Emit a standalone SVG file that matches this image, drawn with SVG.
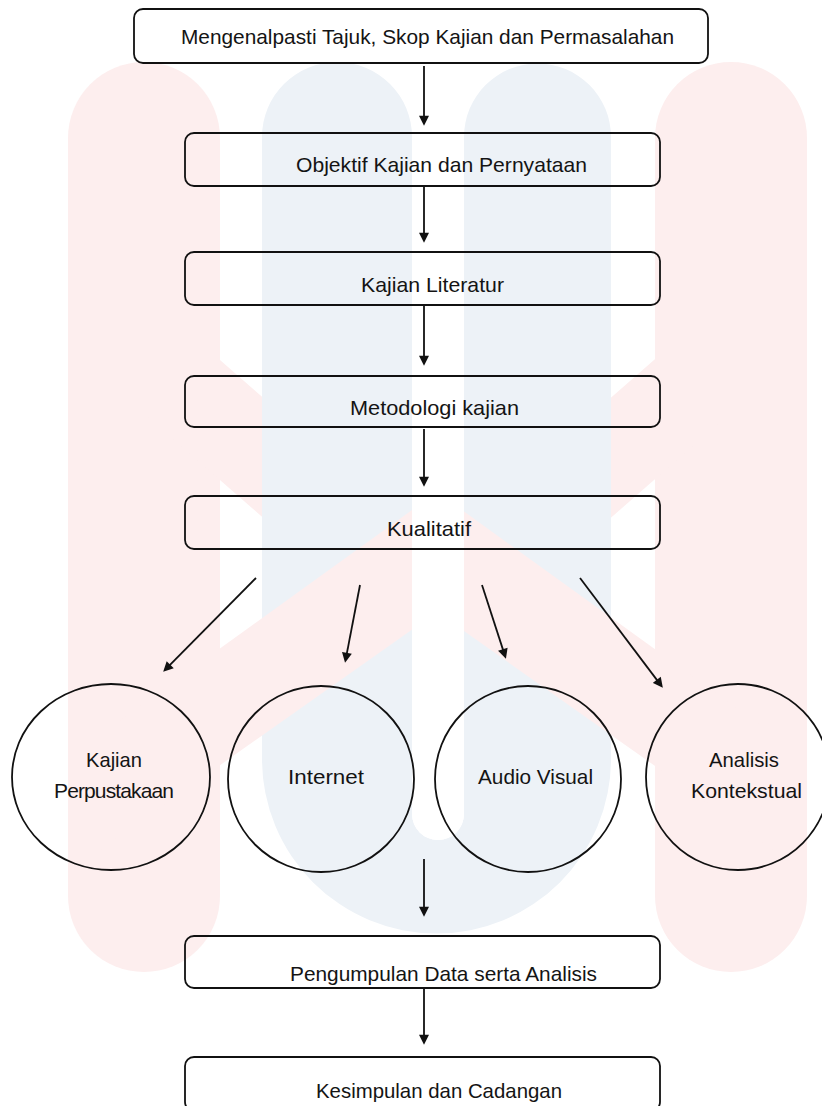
<svg xmlns="http://www.w3.org/2000/svg" width="822" height="1106" viewBox="0 0 822 1106">
  <style>
    .box { fill: none; stroke: #111; stroke-width: 1.8; }
    .circ { fill: none; stroke: #111; stroke-width: 1.8; }
    .lbl { font-family: "Liberation Sans", Arial, sans-serif; font-size: 21px; fill: #141414; }
    .conn line { stroke: #111; stroke-width: 1.8; }
    .wpink { fill: #fdeeee; }
    .wblue { fill: #edf2f7; }
  </style>
  <defs>
    <marker id="ah" viewBox="0 0 10 10" refX="7" refY="5" markerWidth="11" markerHeight="10" markerUnits="userSpaceOnUse" orient="auto">
      <path d="M0,0 L10,5 L0,10 Z" fill="#111"/>
    </marker>
  </defs>

  <!-- background watermark -->
  <g id="watermark">
    <rect x="0" y="0" width="822" height="1106" fill="#ffffff"/>
    <rect class="wpink" x="68" y="62" width="152" height="910" rx="76"/>
    <rect class="wpink" x="655" y="62" width="152" height="910" rx="76"/>
    <!-- upper V (behind the blue) -->
    <polygon class="wpink" points="140,290 437,550 734,290 734,410 437,670 140,410"/>
    <path class="wblue" d="M262,137 A75,75 0 0 1 412,137 L412,814 A26,26 0 0 0 464,814 L464,137 A73.5,73.5 0 0 1 611,137 L611,759 A174.5,174.5 0 0 1 262,759 Z"/>
    <!-- lower arch (over the blue) -->
    <polygon class="wpink" points="100,735 437,492 774,735 774,850 437,612 100,850"/>
    <path fill="#ffffff" d="M412,60 L412,814 A26,26 0 0 0 464,814 L464,60 Z"/>
  </g>

  <!-- connectors -->
  <g id="connectors" class="conn">
    <line x1="424" y1="66" x2="424" y2="122.7" marker-end="url(#ah)"/>
    <line x1="424" y1="187" x2="424" y2="239.7" marker-end="url(#ah)"/>
    <line x1="424" y1="306" x2="424" y2="362.7" marker-end="url(#ah)"/>
    <line x1="424" y1="429" x2="424" y2="483.7" marker-end="url(#ah)"/>
    <line x1="256" y1="578" x2="165.3" y2="669.7" marker-end="url(#ah)"/>
    <line x1="360" y1="585" x2="345.6" y2="659.8" marker-end="url(#ah)"/>
    <line x1="482" y1="585" x2="505" y2="655.9" marker-end="url(#ah)"/>
    <line x1="580" y1="578" x2="661" y2="685.4" marker-end="url(#ah)"/>
    <line x1="424" y1="859" x2="424" y2="913.7" marker-end="url(#ah)"/>
    <line x1="424" y1="989" x2="424" y2="1041.7" marker-end="url(#ah)"/>
  </g>

  <!-- nodes -->
  <g id="n-tajuk">
    <rect class="box" x="134" y="9" width="574" height="54" rx="9"/>
    <text class="lbl" x="181" y="44" textLength="493" lengthAdjust="spacingAndGlyphs">Mengenalpasti Tajuk, Skop Kajian dan Permasalahan</text>
  </g>
  <g id="n-objektif">
    <rect class="box" x="185" y="133" width="475" height="53" rx="9"/>
    <text class="lbl" x="296" y="172" textLength="291" lengthAdjust="spacingAndGlyphs">Objektif Kajian dan Pernyataan</text>
  </g>
  <g id="n-literatur">
    <rect class="box" x="185" y="252" width="475" height="53" rx="9"/>
    <text class="lbl" x="361" y="292" textLength="143" lengthAdjust="spacingAndGlyphs">Kajian Literatur</text>
  </g>
  <g id="n-metodologi">
    <rect class="box" x="185" y="376" width="475" height="51" rx="9"/>
    <text class="lbl" x="350" y="415" textLength="169" lengthAdjust="spacingAndGlyphs">Metodologi kajian</text>
  </g>
  <g id="n-kualitatif">
    <rect class="box" x="185" y="496" width="475" height="53" rx="9"/>
    <text class="lbl" x="387" y="536" textLength="84" lengthAdjust="spacingAndGlyphs">Kualitatif</text>
  </g>
  <g id="n-perpustakaan">
    <ellipse class="circ" cx="111" cy="777" rx="99" ry="93"/>
    <text class="lbl" x="86" y="767" textLength="56" lengthAdjust="spacingAndGlyphs">Kajian</text>
    <text class="lbl" x="54" y="798" textLength="120" lengthAdjust="spacing">Perpustakaan</text>
  </g>
  <g id="n-internet">
    <ellipse class="circ" cx="321" cy="779" rx="93" ry="93"/>
    <text class="lbl" x="288" y="784" textLength="76" lengthAdjust="spacingAndGlyphs">Internet</text>
  </g>
  <g id="n-audio">
    <ellipse class="circ" cx="528" cy="779" rx="93" ry="93"/>
    <text class="lbl" x="478" y="784" textLength="115" lengthAdjust="spacingAndGlyphs">Audio Visual</text>
  </g>
  <g id="n-kontekstual">
    <ellipse class="circ" cx="738" cy="777" rx="92" ry="93"/>
    <text class="lbl" x="709" y="767" textLength="70" lengthAdjust="spacingAndGlyphs">Analisis</text>
    <text class="lbl" x="691" y="798" textLength="111" lengthAdjust="spacingAndGlyphs">Kontekstual</text>
  </g>
  <g id="n-pengumpulan">
    <rect class="box" x="185" y="936" width="475" height="52" rx="9"/>
    <text class="lbl" x="290" y="981" textLength="307" lengthAdjust="spacingAndGlyphs">Pengumpulan Data serta Analisis</text>
  </g>
  <g id="n-kesimpulan">
    <rect class="box" x="185" y="1057" width="475" height="54" rx="9"/>
    <text class="lbl" x="316" y="1098" textLength="246" lengthAdjust="spacingAndGlyphs">Kesimpulan dan Cadangan</text>
  </g>
</svg>
